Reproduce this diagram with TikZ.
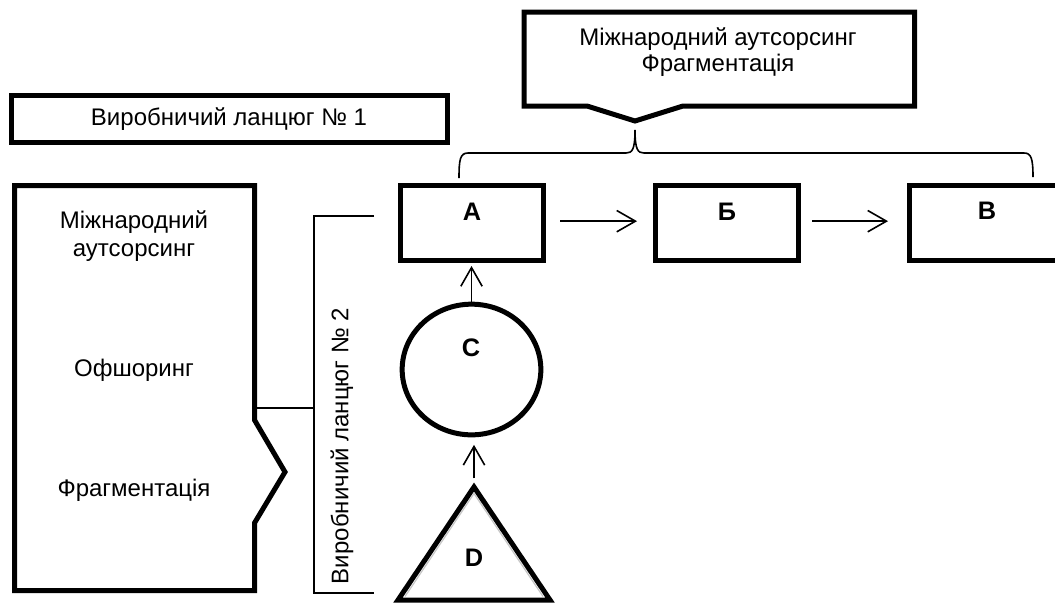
\documentclass[tikz,border=0pt]{standalone}
\usepackage{fontspec}
\setmainfont{Liberation Sans}
\usetikzlibrary{arrows.meta,shapes.geometric}
\begin{document}
\begin{tikzpicture}[x=0.75pt,y=-0.75pt,
  heavy/.style={line width=3.75pt, line join=miter},
  light/.style={line width=1.2pt},
  boxnode/.style={draw, heavy, rectangle, inner sep=0pt, outer sep=0pt, minimum height=56.25pt},
  lett/.style={font=\fontsize{19}{22}\selectfont\bfseries, inner sep=0pt},
  txt/.style={font=\fontsize{18}{21}\selectfont, align=center, inner sep=0pt},
  arr/.style={light, -{Straight Barb[length=14pt,width=16pt,line width=1.2pt]}}
]
\clip (0,0) rectangle (1055,604);
\fill[white] (0,0) rectangle (1055,604);

% Production chain 1 box
\node[draw, heavy, rectangle, inner sep=0pt, minimum width=327pt, minimum height=35.25pt, txt] (ch1) at (229,119) {Виробничий ланцюг № 1};

% Callout box
\draw[heavy] (524,12) -- (914.5,12) -- (914.5,106) -- (683,106) -- (635,121) -- (587,106) -- (524,106) -- cycle;
\node[txt, font=\fontsize{18}{19}\selectfont] (callout) at (718,52) {Міжнародний аутсорсинг\\Фрагментація};

% Brace
\draw[light] (459,178) .. controls (459,160) and (460,153) .. (468,153) -- (626,153)
  .. controls (632,153) and (635,150) .. (635,130)
  .. controls (635,150) and (638,153) .. (644,153) -- (1024,153)
  .. controls (1031,153) and (1033,158) .. (1033,177);

% Chain boxes
\node[boxnode, minimum width=107.25pt] (A) at (471.5,222.5) {};
\node[boxnode, minimum width=107.25pt] (B) at (726.5,222.5) {};
\node[boxnode, minimum width=117pt] (V) at (987,222.5) {};
\node[lett] (Alab) at (472,212) {A};
\node[lett] (Blab) at (727,212) {Б};
\node[lett] (Vlab) at (987,211) {В};

\draw[arr, shorten <=12.75pt, shorten >=13.5pt] ([yshift=1pt]A.east) -- ([yshift=1pt]B.west);
\draw[arr, shorten <=10.5pt, shorten >=15.75pt] ([yshift=1pt]B.east) -- ([yshift=1pt]V.west);

% Circle C
\node[draw, heavy, ellipse, inner sep=0pt, outer sep=0pt, minimum width=104pt, minimum height=98pt] (C) at (471.5,369.5) {};
\node[lett] (Clab) at (471,348) {C};
\draw[arr, shorten >=4.5pt] (C.north) -- (A.south);

% Triangle D
\coordinate (Dtop) at (474,487);
\coordinate (Dl) at (398,600);
\coordinate (Dr) at (550,600);
\draw[gray!45, line width=0.9pt] (405,596.5) -- (474,493.5) -- (543,596.5);
\draw[heavy] (Dl) -- (Dtop) -- (Dr) -- cycle;
\node[lett] (Dlab) at (474,558) {D};
\draw[arr, shorten <=3.5pt, shorten >=7.5pt] (Dtop |- 0,483) -- (Dtop |- C.south);

% Left shape
\draw[heavy] (14.5,185.5) -- (254.5,185.5) -- (254.5,420) -- (285,472) -- (254.5,523) -- (254.5,590.5) -- (14.5,590.5) -- cycle;
\coordinate (Lj) at (254.5,408);
\node[txt] (t1) at (134,236) {Міжнародний\\аутсорсинг};
\node[txt] (t2) at (134,370) {Офшоринг};
\node[txt] (t3) at (134,490) {Фрагментація};

% Bracket for chain 2
\coordinate (bt) at (314,216);
\coordinate (bb) at (314,593);
\coordinate (btr) at (374,216);
\coordinate (bbr) at (374,593);
\draw[light] (btr) -- (bt) -- (bb) -- (bbr);
\draw[light] (Lj) -- (Lj -| bt);
\node[txt, rotate=90] (ch2) at (342,446) {Виробничий ланцюг № 2};
\end{tikzpicture}
\end{document}
